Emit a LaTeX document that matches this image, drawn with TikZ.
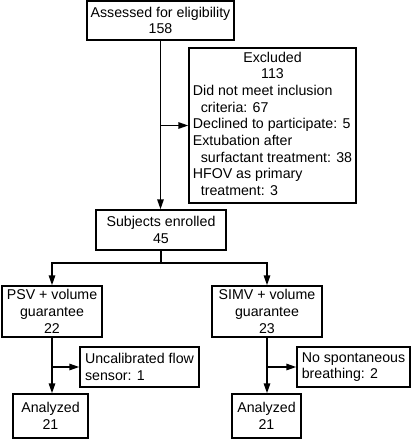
\documentclass[tikz,border=0pt]{standalone}
\usepackage{fontspec}
\setmainfont{Liberation Sans}
\usetikzlibrary{arrows.meta,calc}
\begin{document}
\begin{tikzpicture}[x=1pt,y=-1pt,
 box/.style={draw,line width=1.5pt,inner sep=0pt,align=center,font=\fontsize{14.2}{16.7}\selectfont},
 arr/.style={line width=1.5pt,-{Triangle[length=10pt,width=6.5pt]}},
 ln/.style={line width=1.5pt}]
\useasboundingbox (0,0) rectangle (411,440);
\node[box,minimum width=147pt,minimum height=39pt] (a) at (160.5,20.5) {Assessed for eligibility\\158};
\node[box,minimum width=167pt,minimum height=155pt] (exc) at (272.5,125.5) {\begin{tabular}{@{}l@{}}\multicolumn{1}{@{}c@{}}{Excluded}\\ \multicolumn{1}{@{}c@{}}{113}\\ Did not meet inclusion\\ \hspace*{8pt}criteria: 67\\ Declined to participate: 5\\ Extubation after\\ \hspace*{8pt}surfactant treatment: 38\\ HFOV as primary\\ \hspace*{8pt}treatment: 3\end{tabular}};
\node[box,minimum width=130pt,minimum height=40pt] (sub) at (161,230) {Subjects enrolled\\45};
\node[box,minimum width=100pt,minimum height=51pt] (psv) at (52,311.5) {PSV + volume\\guarantee\\22};
\node[box,minimum width=110pt,minimum height=51pt] (simv) at (267,311.5) {SIMV + volume\\guarantee\\23};
\node[box,minimum width=119pt,minimum height=40pt,align=left] (unc) at (139.5,367) {Uncalibrated flow\\sensor: 1};
\node[box,minimum width=113pt,minimum height=40pt,align=left] (nsp) at (353.5,367) {No spontaneous\\breathing: 2};
\node[box,minimum width=75pt,minimum height=44pt] (anl) at (50.5,416) {Analyzed\\21};
\node[box,minimum width=69pt,minimum height=44pt] (anr) at (266.5,416) {Analyzed\\21};
% connectors
\draw[arr] (a.south) -- (a.south |- sub.north);
\coordinate (j1) at (a.south |- exc.west);
\draw[arr] (j1) -- (exc.west);
\draw[ln] (sub.south) -- ++(0,12) coordinate (s);
\draw[arr] (s) -| (psv.north);
\draw[arr] (s) -| (simv.north);
\draw[arr] (psv.south) -- (psv.south |- anl.north);
\coordinate (j2) at (psv.south |- unc.west);
\draw[arr] (j2) -- (unc.west);
\draw[arr] (simv.south) -- (simv.south |- anr.north);
\coordinate (j3) at (simv.south |- nsp.west);
\draw[arr] (j3) -- (nsp.west);
\end{tikzpicture}
\end{document}
